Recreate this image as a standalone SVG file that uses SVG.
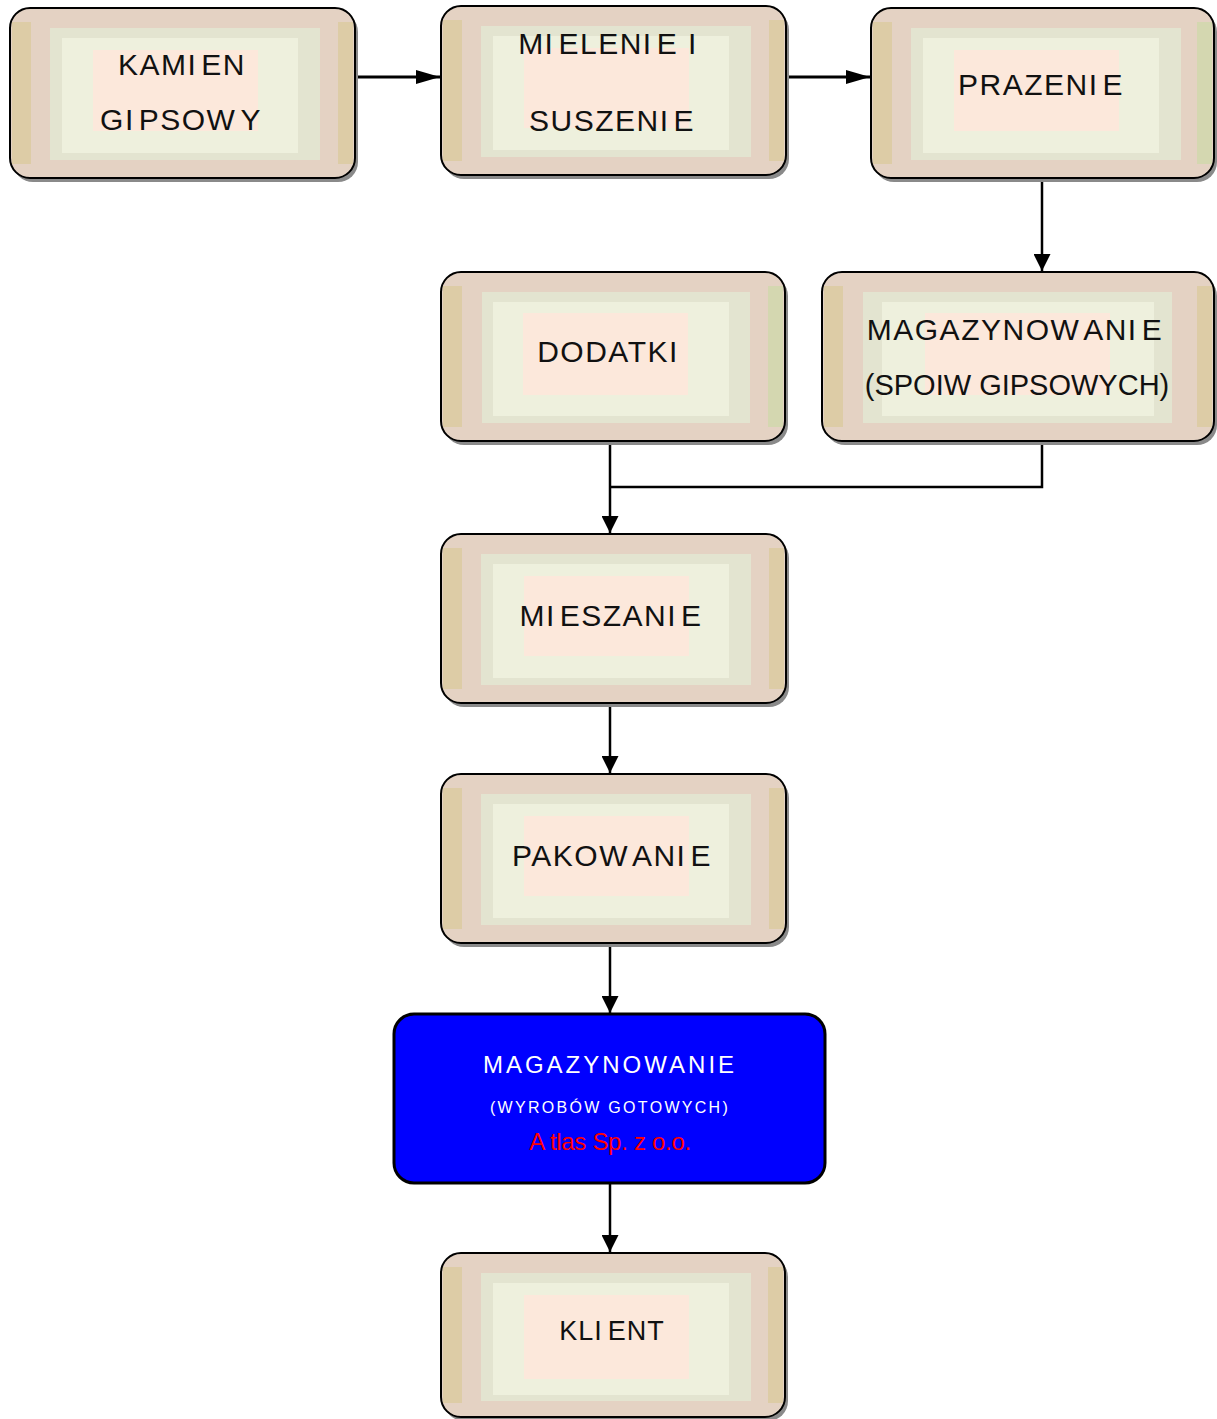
<svg xmlns="http://www.w3.org/2000/svg" width="1217" height="1419" viewBox="0 0 1217 1419">
<style>
.sh{fill:#8a8a8a}
.bg{fill:#e4d2c3;stroke:#000;stroke-width:2}
.st{fill:#ddcca6}
.g1{fill:#e3e4d0}
.g2{fill:#eef0dd}
.pk{fill:#fce8db}
.t{font-family:"Liberation Sans",Arial,sans-serif;font-size:30px;fill:#111;text-anchor:middle;letter-spacing:1.5px}
.w{fill:#fff;text-anchor:middle;font-family:"Liberation Sans",Arial,sans-serif}
.c{fill:none;stroke:#000}
</style>
<defs>
<marker id="ah" markerUnits="userSpaceOnUse" viewBox="0 0 24 14" refX="24" refY="7" markerWidth="24" markerHeight="14" orient="auto"><path d="M0,0L24,7L0,14z" fill="#000"/></marker>
<marker id="av" markerUnits="userSpaceOnUse" viewBox="0 0 17 17" refX="17" refY="8.5" markerWidth="17" markerHeight="17" orient="auto"><path d="M0,0L17,8.5L0,17z" fill="#000"/></marker>
</defs>

<g id="connectors">
<path class="c" stroke-width="3" d="M345,77H440" marker-end="url(#ah)"/>
<path class="c" stroke-width="3" d="M778,77H870" marker-end="url(#ah)"/>
<path class="c" stroke-width="2.5" d="M1042,178V271" marker-end="url(#av)"/>
<path class="c" stroke-width="2.5" d="M1042,441V487H610"/>
<path class="c" stroke-width="2.5" d="M610,441V533" marker-end="url(#av)"/>
<path class="c" stroke-width="2.5" d="M610,703V773" marker-end="url(#av)"/>
<path class="c" stroke-width="2.5" d="M610,943V1013" marker-end="url(#av)"/>
<path class="c" stroke-width="2.5" d="M610,1183V1252" marker-end="url(#av)"/>
</g>

<g id="kamien" transform="translate(10,8)">
<rect class="sh" x="3" y="4" width="345" height="170" rx="20"/>
<rect class="bg" x="0" y="0" width="345" height="170" rx="20"/>
<rect class="st" x="2" y="14" width="19" height="142"/>
<rect class="st" x="328" y="14" width="15" height="142"/>
<rect class="g1" x="40" y="20" width="270" height="132"/>
<rect class="g2" x="52" y="30" width="236" height="115"/>
<rect class="pk" x="83" y="42" width="165" height="81"/>
<text class="t" x="172" y="67">KAMI<tspan dx="4">EN</tspan></text>
<text class="t" x="171" y="122">GI<tspan dx="4">PSOW</tspan><tspan dx="4">Y</tspan></text>
</g>

<g id="mielenie" transform="translate(441,6)">
<rect class="sh" x="3" y="4" width="345" height="169" rx="20"/>
<rect class="bg" x="0" y="0" width="345" height="169" rx="20"/>
<rect class="st" x="2" y="14" width="19" height="141"/>
<rect class="st" x="328" y="14" width="15" height="141"/>
<rect class="g1" x="40" y="20" width="270" height="131"/>
<rect class="g2" x="52" y="30" width="236" height="114"/>
<rect class="pk" x="83" y="42" width="165" height="80"/>
<text class="t" x="167" y="48">MI<tspan dx="4">ELENI</tspan><tspan dx="4">E I</tspan></text>
<text class="t" x="171" y="125">SUSZENI<tspan dx="4">E</tspan></text>
</g>

<g id="prazenie" transform="translate(871,8)">
<rect class="sh" x="3" y="4" width="343" height="170" rx="20"/>
<rect class="bg" x="0" y="0" width="343" height="170" rx="20"/>
<rect class="st" x="2" y="14" width="19" height="142"/>
<rect class="st" x="326" y="14" width="15" height="142" style="fill:#d4d7b0"/>
<rect class="g1" x="40" y="20" width="270" height="132"/>
<rect class="g2" x="52" y="30" width="236" height="115"/>
<rect class="pk" x="83" y="42" width="165" height="81"/>
<text class="t" x="170" y="87">PRAZENI<tspan dx="4">E</tspan></text>
</g>

<g id="dodatki" transform="translate(441,272)">
<rect class="sh" x="3" y="4" width="344" height="169" rx="20"/>
<rect class="bg" x="0" y="0" width="344" height="169" rx="20"/>
<rect class="st" x="2" y="14" width="19" height="141"/>
<rect class="st" x="327" y="14" width="15" height="141" style="fill:#d4d7b0"/>
<rect class="g1" x="41" y="20" width="268" height="131"/>
<rect class="g2" x="52" y="30" width="236" height="114"/>
<rect class="pk" x="82" y="41" width="165" height="82"/>
<text class="t" x="167" y="90">DODATKI</text>
</g>

<g id="magazynowanie-spoiw" transform="translate(822,272)">
<rect class="sh" x="3" y="4" width="392" height="169" rx="20"/>
<rect class="bg" x="0" y="0" width="392" height="169" rx="20"/>
<rect class="st" x="2" y="14" width="19" height="141"/>
<rect class="st" x="375" y="14" width="15" height="141"/>
<rect class="g1" x="41" y="20" width="309" height="131"/>
<rect class="g2" x="60" y="30" width="272" height="114"/>
<rect class="pk" x="103" y="41" width="185" height="82"/>
<text class="t" x="193" y="68">MAGAZYNOW<tspan dx="4">ANI</tspan><tspan dx="4">E</tspan></text>
<text class="t" x="195" y="123" style="letter-spacing:0px;font-size:29px">(SPOIW GIPSOWYCH)</text>
</g>

<g id="mieszanie" transform="translate(441,534)">
<rect class="sh" x="3" y="4" width="345" height="169" rx="20"/>
<rect class="bg" x="0" y="0" width="345" height="169" rx="20"/>
<rect class="st" x="2" y="14" width="19" height="141"/>
<rect class="st" x="328" y="14" width="15" height="141"/>
<rect class="g1" x="40" y="20" width="270" height="131"/>
<rect class="g2" x="52" y="30" width="236" height="114"/>
<rect class="pk" x="83" y="42" width="165" height="80"/>
<text class="t" x="170" y="92">MI<tspan dx="4">ESZANI</tspan><tspan dx="4">E</tspan></text>
</g>

<g id="pakowanie" transform="translate(441,774)">
<rect class="sh" x="3" y="4" width="345" height="169" rx="20"/>
<rect class="bg" x="0" y="0" width="345" height="169" rx="20"/>
<rect class="st" x="2" y="14" width="19" height="141"/>
<rect class="st" x="328" y="14" width="15" height="141"/>
<rect class="g1" x="40" y="20" width="270" height="131"/>
<rect class="g2" x="52" y="30" width="236" height="114"/>
<rect class="pk" x="83" y="42" width="165" height="80"/>
<text class="t" x="171" y="92">PAKOW<tspan dx="4">ANI</tspan><tspan dx="4">E</tspan></text>
</g>

<g id="magazynowanie-wyrobow" transform="translate(394,1014)">
<rect x="0" y="0" width="431" height="169" rx="20" fill="#0000ff" stroke="#000" stroke-width="3"/>
<text class="w" x="216" y="59" style="font-size:24px;letter-spacing:3px">MAGAZYNOWANIE</text>
<text class="w" x="216" y="99" style="font-size:16px;letter-spacing:2.3px">(WYROBÓW GOTOWYCH)</text>
<text class="w" x="216" y="136" style="font-size:24px;fill:#ff0000;letter-spacing:-0.3px">A<tspan dx="5">tlas Sp. z o.o.</tspan></text>
</g>

<g id="klient" transform="translate(441,1253)">
<rect class="sh" x="3" y="4" width="344" height="164" rx="20"/>
<rect class="bg" x="0" y="0" width="344" height="164" rx="20"/>
<rect class="st" x="2" y="14" width="19" height="136"/>
<rect class="st" x="327" y="14" width="15" height="136"/>
<rect class="g1" x="40" y="20" width="270" height="128"/>
<rect class="g2" x="52" y="30" width="236" height="112"/>
<rect class="pk" x="83" y="42" width="165" height="84"/>
<text class="t" x="171" y="87" style="font-size:27px;letter-spacing:1px">KLI<tspan dx="5">ENT</tspan></text>
</g>
</svg>
